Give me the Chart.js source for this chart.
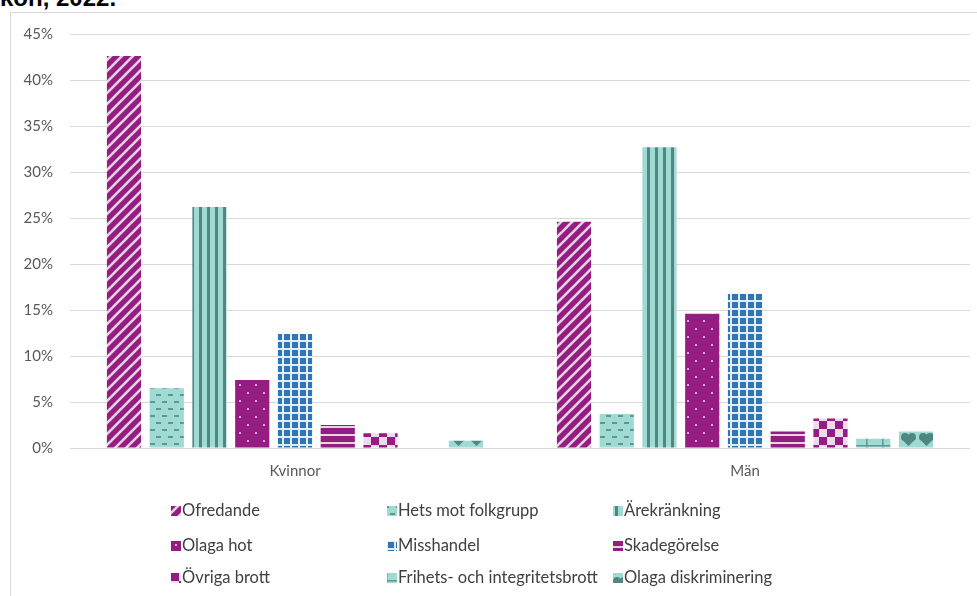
<!DOCTYPE html>
<html lang="sv">
<head>
<meta charset="utf-8">
<script src="https://cdn.jsdelivr.net/npm/chart.js@4.4.1/dist/chart.umd.min.js"></script>
<style>
  html, body { margin: 0; padding: 0; background: #fff; overflow: hidden; }
  body { width: 977px; height: 596px; position: relative; }
  #title {
    position: absolute; left: 0; top: -14px; margin: 0;
    font: bold 24px "Liberation Sans", Arial, sans-serif; line-height: 24px; color: #000;
    white-space: nowrap;
  }
  #frame {
    position: absolute; left: 10px; top: 12px; width: 980px; height: 600px;
    border: 1px solid #d9d9d9; box-sizing: border-box; overflow: hidden;
  }
  #wrap { position: absolute; left: 0; top: 0; width: 966px; height: 583px; }
</style>
</head>
<body>
<div id="title">kön, 2022.</div>
<div id="frame"><div id="wrap"><canvas id="chart"></canvas></div></div>
<script>
// Andel (%) per brottstyp och kön, 2022
const categories = ["Kvinnor", "Män"];
const seriesNames = [
  "Ofredande", "Hets mot folkgrupp", "Ärekränkning",
  "Olaga hot", "Misshandel", "Skadegörelse",
  "Övriga brott", "Frihets- och integritetsbrott", "Olaga diskriminering",
];
const ofredande = [42.6, 24.6];
const hetsMotFolkgrupp = [6.5, 3.7];
const arekrankning = [26.2, 32.7];
const olagaHot = [7.4, 14.6];
const misshandel = [12.4, 16.8];
const skadegorelse = [2.5, 1.8];
const ovrigaBrott = [1.6, 3.2];
const frihetsBrott = [0, 1.0];
const olagaDiskriminering = [0.8, 1.8];
const yTicks = [0, 5, 10, 15, 20, 25, 30, 35, 40, 45];

const seriesValues = [
  ofredande, hetsMotFolkgrupp, arekrankning,
  olagaHot, misshandel, skadegorelse,
  ovrigaBrott, frihetsBrott, olagaDiskriminering,
];

const PURPLE = "#951c81";
const PURPLE_LIGHT = "#e6d4e5";
const TEAL = "#9fdad3";
const TEAL_DARK = "#4f8683";
const BLUE = "#2e75b6";
const TEXT = "#595959";
const FONT = "Lato";

// Excel-liknande mönsterfyllningar, byggda på små canvas-rutor.
function tile(w, h, draw, dx = 0, dy = 0) {
  const c = document.createElement("canvas");
  c.width = w; c.height = h;
  const g = c.getContext("2d");
  draw(g, w, h);
  const p = document.createElement("canvas").getContext("2d").createPattern(c, "repeat");
  if (dx || dy) p.setTransform(new DOMMatrix().translate(dx, dy));
  return p;
}

const patterns = [
  // Ofredande: breda diagonala ränder
  tile(11, 11, (g, w, h) => {
    g.fillStyle = PURPLE; g.fillRect(0, 0, w, h);
    g.strokeStyle = PURPLE_LIGHT; g.lineWidth = 2.6;
    for (const o of [-w, 0, w]) {
      g.beginPath(); g.moveTo(o - 1, h + 1); g.lineTo(o + w + 1, -1); g.stroke();
    }
  }),
  // Hets mot folkgrupp: förskjutna streck
  tile(12, 14, (g, w, h) => {
    g.fillStyle = TEAL; g.fillRect(0, 0, w, h);
    g.fillStyle = "#5b9794";
    g.fillRect(1, 3, 5, 2);
    g.fillRect(7, 10, 5, 2);
  }),
  // Ärekränkning: vertikala ränder
  tile(8, 8, (g, w, h) => {
    g.fillStyle = TEAL; g.fillRect(0, 0, w, h);
    g.fillStyle = TEAL_DARK; g.fillRect(4, 0, 3, h);
  }),
  // Olaga hot: glesa prickar
  tile(16, 16, (g, w, h) => {
    g.fillStyle = PURPLE; g.fillRect(0, 0, w, h);
    g.fillStyle = "#dca9d4";
    g.fillRect(4, 3, 2, 2);
    g.fillRect(12, 11, 2, 2);
  }),
  // Misshandel: rutnät
  tile(8, 8, (g, w, h) => {
    g.fillStyle = "#e3edf7"; g.fillRect(0, 0, w, h);
    g.fillStyle = BLUE; g.fillRect(1, 1, 6, 6);
  }),
  // Skadegörelse: horisontella ränder
  tile(8, 8, (g, w, h) => {
    g.fillStyle = PURPLE; g.fillRect(0, 0, w, h);
    g.fillStyle = PURPLE_LIGHT; g.fillRect(0, 5, w, 2);
  }),
  // Övriga brott: schackruta
  tile(16, 16, (g, w, h) => {
    g.fillStyle = "#eadcea"; g.fillRect(0, 0, w, h);
    g.fillStyle = PURPLE;
    g.fillRect(0, 0, 8, 8); g.fillRect(8, 8, 8, 8);
  }),
  // Frihets- och integritetsbrott: tegel
  tile(16, 9, (g, w, h) => {
    g.fillStyle = TEAL; g.fillRect(0, 0, w, h);
    g.fillStyle = "#5e9a96";
    g.fillRect(0, 0, w, 1.5);
    g.fillRect(7, 0, 1.5, h);
  }),
  // Olaga diskriminering: hjärtformer
  tile(18, 18, (g, w, h) => {
    g.fillStyle = TEAL; g.fillRect(0, 0, w, h);
    g.fillStyle = TEAL_DARK;
    g.beginPath(); g.arc(5, 6, 4, 0, Math.PI * 2); g.fill();
    g.beginPath(); g.arc(12, 6, 4, 0, Math.PI * 2); g.fill();
    g.beginPath(); g.moveTo(1.5, 8); g.lineTo(15.5, 8); g.lineTo(8.5, 15); g.closePath(); g.fill();
  }, 7, 4),
];

// Egen legend i tre kolumner, som i originalet.
const gridLegend = {
  id: "gridLegend",
  afterDraw(chart) {
    const ctx = chart.ctx;
    const colX = [160, 376, 602];
    const rowY = [498, 533, 565];
    ctx.save();
    ctx.font = "16.5px " + FONT + ", sans-serif";
    ctx.textBaseline = "middle";
    chart.data.datasets.forEach((ds, i) => {
      const x = colX[i % 3];
      const y = rowY[Math.floor(i / 3)];
      ctx.fillStyle = ds.backgroundColor;
      ctx.fillRect(x, y - 5, 10, 10);
      ctx.fillStyle = "#404040";
      ctx.fillText(ds.label, x + 11, y);
    });
    ctx.restore();
  },
};

new Chart(document.getElementById("chart"), {
  type: "bar",
  data: {
    labels: categories,
    datasets: seriesNames.map((name, i) => ({
      label: name,
      data: seriesValues[i],
      backgroundColor: patterns[i],
      borderWidth: 0,
      categoryPercentage: 0.855,
      barPercentage: 0.8,
    })),
  },
  options: {
    responsive: true,
    maintainAspectRatio: false,
    animation: false,
    layout: { autoPadding: false, padding: { top: 21, right: 7, left: 0, bottom: 0 } },
    scales: {
      x: {
        grid: { display: false },
        border: { display: false },
        ticks: { color: TEXT, font: { family: FONT, size: 15 }, padding: 6 },
        afterFit: (s) => { s.height = 148; },
      },
      y: {
        min: 0,
        max: 45,
        afterBuildTicks: (s) => { s.ticks = yTicks.map((v) => ({ value: v })); },
        grid: { color: "#d9d9d9", lineWidth: 1, drawTicks: false },
        border: { display: false },
        ticks: {
          color: TEXT,
          font: { family: FONT, size: 15 },
          padding: 17,
          callback: (v) => v + "%",
        },
        afterFit: (s) => { s.width = 59; s.paddingTop = 0; s.paddingBottom = 0; },
      },
    },
    plugins: {
      legend: { display: false },
      tooltip: { enabled: false },
    },
  },
  plugins: [gridLegend],
});
</script>
</body>
</html>
